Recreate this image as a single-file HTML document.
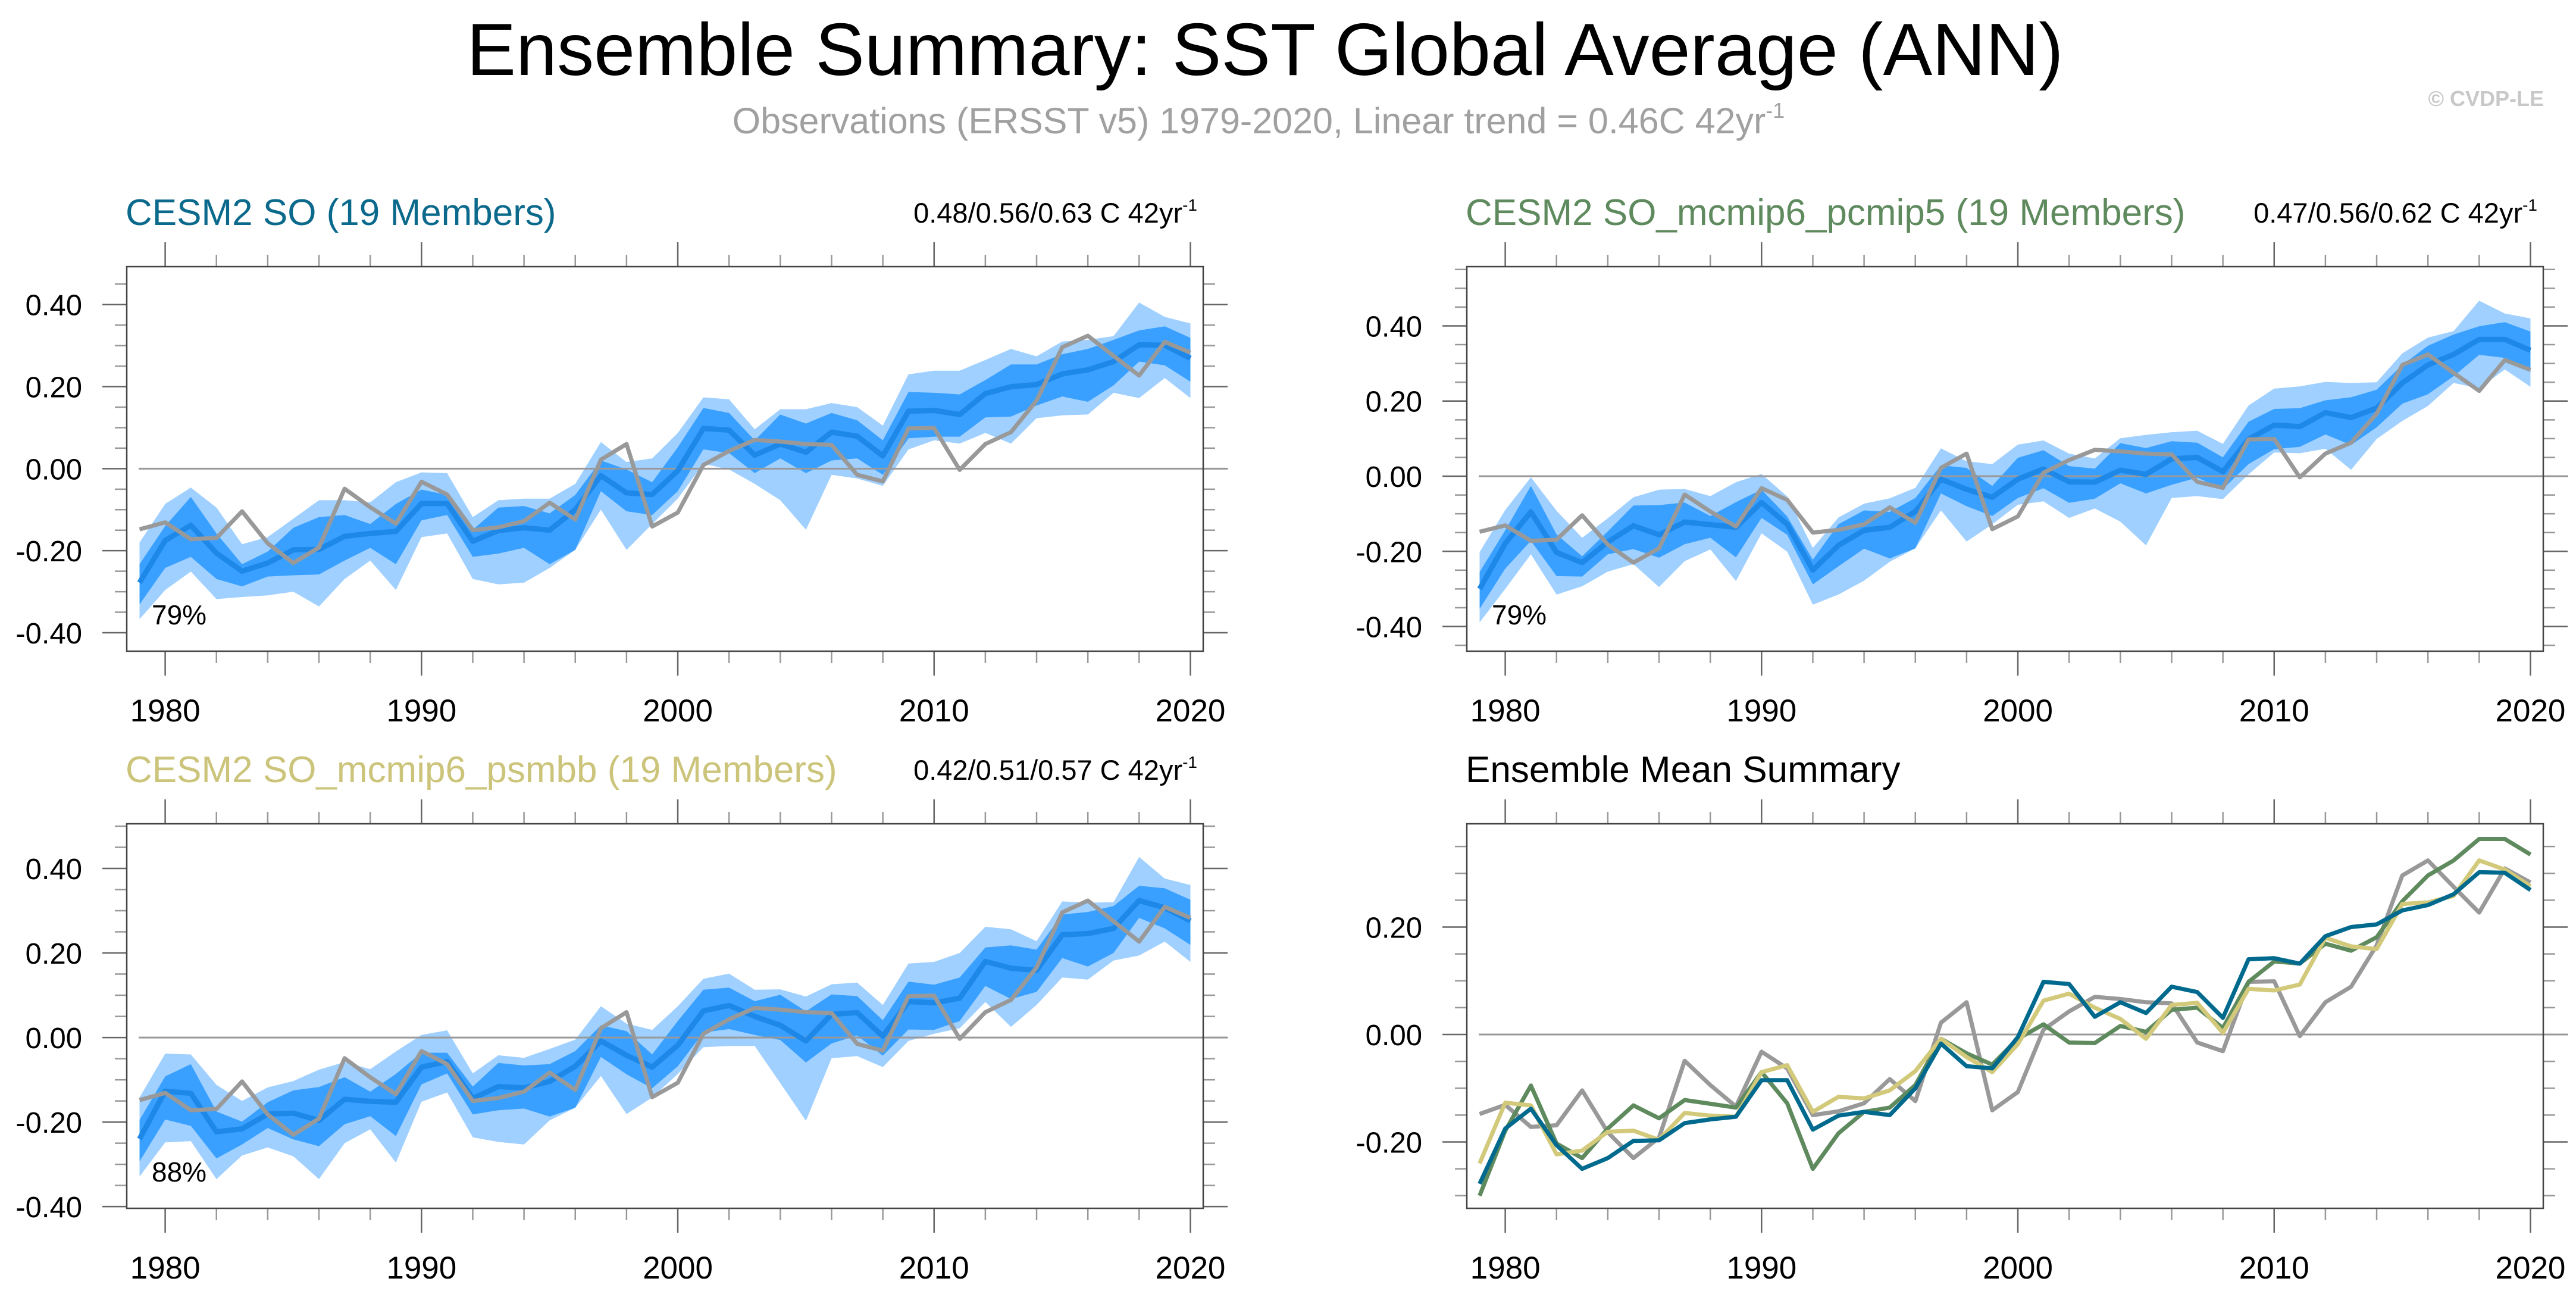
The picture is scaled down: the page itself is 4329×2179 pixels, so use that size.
<!DOCTYPE html>
<html><head><meta charset="utf-8"><style>
html,body{margin:0;padding:0;background:#fff;}
svg{display:block;font-family:"Liberation Sans",sans-serif;}
</style></head><body>
<svg id="chart" width="4329" height="2179" viewBox="0 0 4329 2179" xmlns="http://www.w3.org/2000/svg">
<text x="2126" y="126" font-size="124" text-anchor="middle" fill="#000">Ensemble Summary: SST Global Average (ANN)</text>
<text x="2115" y="224" font-size="61" text-anchor="middle" fill="#a0a0a0">Observations (ERSST v5) 1979-2020, Linear trend = 0.46C 42yr<tspan font-size="36" dy="-26">-1</tspan></text>
<text x="4275" y="178" font-size="36" text-anchor="end" fill="#c8c8c8" font-weight="bold">© CVDP-LE</text>
<g id="panels"></g>
</svg>
<script>
const years = [];
for (let y = 1979; y <= 2020; y++) years.push(y);
const obs = [-0.148,-0.131,-0.172,-0.169,-0.104,-0.182,-0.230,-0.192,-0.049,-0.094,-0.134,-0.032,-0.063,-0.150,-0.143,-0.128,-0.083,-0.124,0.022,0.060,-0.141,-0.107,0.009,0.043,0.070,0.066,0.060,0.058,-0.015,-0.031,0.098,0.099,-0.003,0.060,0.089,0.166,0.296,0.324,0.275,0.227,0.309,0.283];
const meanSO = [-0.278,-0.175,-0.138,-0.206,-0.250,-0.230,-0.198,-0.197,-0.165,-0.158,-0.153,-0.085,-0.085,-0.177,-0.151,-0.144,-0.150,-0.100,-0.017,-0.059,-0.063,-0.005,0.098,0.094,0.033,0.060,0.040,0.089,0.079,0.031,0.140,0.142,0.132,0.183,0.200,0.205,0.231,0.241,0.261,0.302,0.301,0.269];
const meanP5 = [-0.300,-0.179,-0.095,-0.203,-0.230,-0.175,-0.132,-0.156,-0.122,-0.129,-0.136,-0.070,-0.128,-0.250,-0.184,-0.144,-0.136,-0.094,-0.008,-0.035,-0.056,-0.008,0.019,-0.015,-0.016,0.016,0.005,0.046,0.050,0.012,0.098,0.136,0.132,0.169,0.156,0.181,0.248,0.296,0.324,0.364,0.364,0.335];
const meanPB = [-0.240,-0.127,-0.132,-0.223,-0.216,-0.181,-0.179,-0.196,-0.146,-0.151,-0.153,-0.070,-0.057,-0.144,-0.116,-0.119,-0.104,-0.068,-0.008,-0.042,-0.070,-0.018,0.063,0.076,0.050,0.029,-0.008,0.055,0.059,0.003,0.085,0.082,0.093,0.180,0.164,0.159,0.243,0.246,0.258,0.324,0.307,0.276];
const soLightHi = [-0.18,-0.086,-0.046,-0.095,-0.184,-0.167,-0.122,-0.077,-0.077,-0.082,-0.033,-0.009,-0.011,-0.118,-0.077,-0.073,-0.073,-0.037,0.065,0.016,0.025,0.087,0.174,0.169,0.096,0.145,0.145,0.160,0.150,0.105,0.230,0.239,0.239,0.265,0.292,0.274,0.310,0.314,0.323,0.405,0.370,0.354];
const soLightLo = [-0.367,-0.296,-0.251,-0.318,-0.313,-0.309,-0.300,-0.336,-0.269,-0.224,-0.296,-0.167,-0.158,-0.269,-0.282,-0.278,-0.242,-0.198,-0.100,-0.198,-0.135,-0.073,0.012,-0.002,-0.037,-0.077,-0.149,-0.015,-0.024,-0.042,0.047,0.069,0.061,0.087,0.061,0.123,0.130,0.132,0.185,0.172,0.221,0.172];
const soDarkHi = [-0.233,-0.140,-0.069,-0.158,-0.233,-0.202,-0.144,-0.118,-0.113,-0.135,-0.086,-0.051,-0.064,-0.149,-0.095,-0.091,-0.109,-0.064,0.020,-0.002,-0.033,0.052,0.148,0.136,0.069,0.132,0.110,0.136,0.118,0.069,0.187,0.185,0.181,0.216,0.254,0.254,0.279,0.292,0.314,0.337,0.347,0.319];
const soDarkLo = [-0.331,-0.242,-0.215,-0.269,-0.287,-0.263,-0.260,-0.258,-0.224,-0.193,-0.233,-0.126,-0.113,-0.215,-0.207,-0.193,-0.233,-0.198,-0.055,-0.104,-0.113,-0.055,0.047,0.038,-0.011,0.025,-0.011,0.020,0.025,-0.015,0.074,0.078,0.078,0.125,0.127,0.154,0.176,0.163,0.203,0.261,0.252,0.212];
const yTicks4 = [-0.4,-0.2,0,0.2,0.4];
const yTicks2 = [-0.2,0,0.2];
const xTickYears = [1980,1990,2000,2010,2020];

const NS = "http://www.w3.org/2000/svg";
const root = document.getElementById('panels');
function mk(tag, attrs, parent){const e=document.createElementNS(NS,tag);for(const k in attrs)e.setAttribute(k,attrs[k]);(parent||root).appendChild(e);return e;}

function panel(cfg){
  const g = mk('g',{});
  
  
  const X = y => cfg.x0 + (y - 1978.5) / 42 * cfg.w;
  const Y = v => cfg.y0 + (cfg.vmax - v) / (cfg.vmax - cfg.vmin) * cfg.h;
  const path = arr => arr.map((v,i)=>(i?'L':'M')+X(years[i]).toFixed(1)+','+Y(v).toFixed(1)).join('');
  const band = (hi,lo) => path(hi) + lo.slice().reverse().map((v,i)=>'L'+X(years[years.length-1-i]).toFixed(1)+','+Y(v).toFixed(1)).join('')+'Z';
  for (let yr = 1980; yr <= 2020; yr += 2) {
    const major = yr % 10 === 0;
    const L = major ? 41 : 20;
    const c = major ? '#666' : '#999';
    const t1 = mk('line',{x1:X(yr),x2:X(yr),y1:cfg.y0,y2:cfg.y0-L,stroke:c,'stroke-width':2.5},g);
    
    
    const t2 = mk('line',{x1:X(yr),x2:X(yr),y1:cfg.y0+cfg.h,y2:cfg.y0+cfg.h+L,stroke:c,'stroke-width':2.5},g);
    
    
  }
  xTickYears.forEach(yr=>{
    const t = mk('text',{x:X(yr),y:cfg.y0+cfg.h+118,'font-size':53,'text-anchor':'middle',fill:'#000'},g);
    t.textContent = yr;
    
    
  });
  for (let k = Math.ceil(cfg.vmin/0.05); k <= Math.floor(cfg.vmax/0.05); k++) {
    const v = k*0.05, major = (k % 4 === 0);
    const L = major ? 41 : 20;
    const c = major ? '#666' : '#999';
    const a = mk('line',{x1:cfg.x0,x2:cfg.x0-L,y1:Y(v),y2:Y(v),stroke:c,'stroke-width':2.5},g);
    
    
    const b = mk('line',{x1:cfg.x0+cfg.w,x2:cfg.x0+cfg.w+L,y1:Y(v),y2:Y(v),stroke:c,'stroke-width':2.5},g);
    
    
  }
  cfg.yt.forEach(v=>{
    const t = mk('text',{x:cfg.x0-75,y:Y(v)+18,'font-size':49,'text-anchor':'end',fill:'#000'},g);
    t.textContent = v.toFixed(2);
    
    
  });
  if (cfg.mean && !cfg.summary) {
    const off = (src, base) => src.map((v,i)=>cfg.mean[i] + (v - base[i]));
    const lh = off(soLightHi, meanSO), ll = off(soLightLo, meanSO), dh = off(soDarkHi, meanSO), dl = off(soDarkLo, meanSO);
    const b1 = mk('path',{d:band(lh,ll),fill:'#9fd0ff',stroke:'none'},g);
    
    
    const b2 = mk('path',{d:band(dh,dl),fill:'#3aa0ff',stroke:'none'},g);
    
    
  }
  const z = mk('line',{x1:cfg.x0+20,x2:cfg.x0+cfg.w+40,y1:Y(0),y2:Y(0),stroke:'#999','stroke-width':3},g);
  
  
  if (!cfg.summary) {
    const m = mk('path',{d:path(cfg.mean),fill:'none',stroke:'#1e88e8','stroke-width':9,'stroke-linejoin':'round'},g);
    
    
    const o = mk('path',{d:path(obs),fill:'none',stroke:'#999','stroke-width':7,'stroke-linejoin':'round'},g);
    
    
    const p = mk('text',{x:cfg.x0+42,y:cfg.y0+cfg.h-45,'font-size':46,fill:'#000'},g);
    p.textContent = cfg.pct;
    
    
  } else {
    const series = [[obs,'#999','observations-line'],[meanP5,'#5e8a5e','pcmip5-mean-line'],[meanPB,'#d2c97a','psmbb-mean-line'],[meanSO,'#006a8e','so-mean-line']];
    series.forEach(s=>{
      const l = mk('path',{d:path(s[0]),fill:'none',stroke:s[1],'stroke-width':7,'stroke-linejoin':'round'},g);
      
      
    });
  }
  const box = mk('rect',{x:cfg.x0,y:cfg.y0,width:cfg.w,height:cfg.h,fill:'none',stroke:'#444','stroke-width':2.5},g);
  
  
  const tt = mk('text',{x:cfg.x0-2,y:cfg.y0-70,'font-size':62,fill:cfg.tcol},g);
  tt.textContent = cfg.title;
  
  
  if (cfg.trend) {
    const tr = mk('text',{x:cfg.x0+cfg.w-10,y:cfg.y0-74,'font-size':47,'text-anchor':'end',fill:'#000'},g);
    tr.textContent = cfg.trend + ' C 42yr';
    const sp = mk('tspan',{'font-size':28,dy:-20},tr);
    sp.textContent = '-1';
    
    
  }
}
panel({name:'panel-cesm2-so',x0:213,y0:448,w:1809,h:646,vmin:-0.445,vmax:0.4925,yt:yTicks4,mean:meanSO,title:'CESM2 SO (19 Members)',tcol:'#0b6a8c',trend:'0.48/0.56/0.63',pct:'79%'});
panel({name:'panel-pcmip5',x0:2465,y0:448,w:1809,h:646,vmin:-0.4657,vmax:0.5576,yt:yTicks4,mean:meanP5,title:'CESM2 SO_mcmip6_pcmip5 (19 Members)',tcol:'#5e8a5e',trend:'0.47/0.56/0.62',pct:'79%'});
panel({name:'panel-psmbb',x0:213,y0:1384,w:1809,h:646,vmin:-0.404,vmax:0.5056,yt:yTicks4,mean:meanPB,title:'CESM2 SO_mcmip6_psmbb (19 Members)',tcol:'#cbc47a',trend:'0.42/0.51/0.57',pct:'88%'});
panel({name:'panel-ensemble-mean-summary',x0:2465,y0:1384,w:1809,h:646,vmin:-0.3235,vmax:0.3922,yt:yTicks2,summary:true,mean:meanSO,title:'Ensemble Mean Summary',tcol:'#000'});
</script>
</body></html>
